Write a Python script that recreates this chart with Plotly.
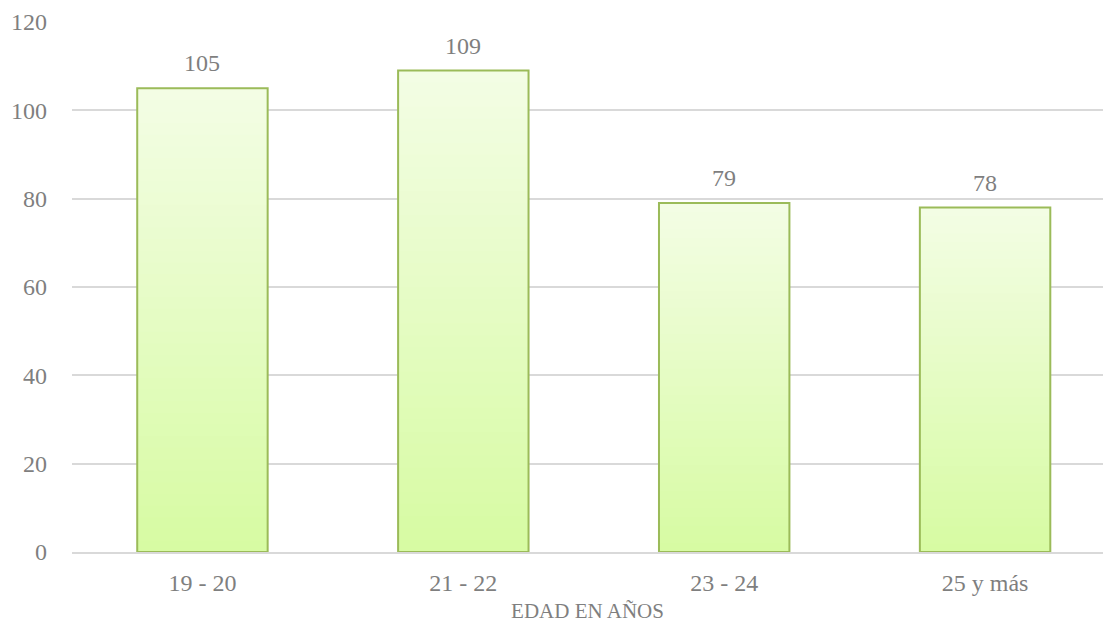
import plotly.graph_objects as go

categories = ["19 - 20", "21 - 22", "23 - 24", "25 y más"]
values = [105, 109, 79, 78]
y_ticks = [0, 20, 40, 60, 80, 100, 120]
x_title = "EDAD EN AÑOS"

top_rgb = (243, 253, 228)
bot_rgb = (215, 251, 163)
N = 40
FONT = "Liberation Serif"
GRAY = "#7f7f7f"

fig = go.Figure()
for k in range(N):
    frac = 1 - k / N
    t = k / (N - 1)
    c = tuple(round(top_rgb[i] + (bot_rgb[i] - top_rgb[i]) * t) for i in range(3))
    fig.add_trace(go.Bar(
        x=categories, y=[v * frac for v in values],
        marker=dict(color="rgb(%d,%d,%d)" % c, line=dict(width=0)),
        width=0.5, hoverinfo="skip", showlegend=False,
    ))
fig.add_trace(go.Bar(
    x=categories, y=values,
    marker=dict(color="rgba(0,0,0,0)", line=dict(color="#9BBB59", width=2)),
    width=0.5, showlegend=False,
))

for c, v in zip(categories, values):
    fig.add_annotation(x=c, y=v, text=str(v), showarrow=False, yanchor="bottom",
                       yshift=10, font=dict(family=FONT, size=24, color=GRAY))

fig.update_layout(
    barmode="overlay",
    width=1103, height=629,
    margin=dict(l=72, r=0, t=22, b=77),
    paper_bgcolor="white", plot_bgcolor="white",
    font=dict(family=FONT, size=24, color=GRAY),
    xaxis=dict(range=[-0.5, 3.452], showgrid=False, showline=True, linecolor="#d9d9d9",
               linewidth=1.5, ticks="", tickfont=dict(size=24, color=GRAY),
               ticklabelstandoff=8,
               title=dict(text=x_title, font=dict(size=21, color=GRAY), standoff=9)),
    yaxis=dict(range=[0, 120], tickvals=y_ticks, showgrid=True, gridcolor="#d9d9d9",
               gridwidth=1.5, zeroline=False, showline=False, ticks="",
               tickfont=dict(size=24, color=GRAY), ticklabelstandoff=24),
)

fig.write_html("out.html")
